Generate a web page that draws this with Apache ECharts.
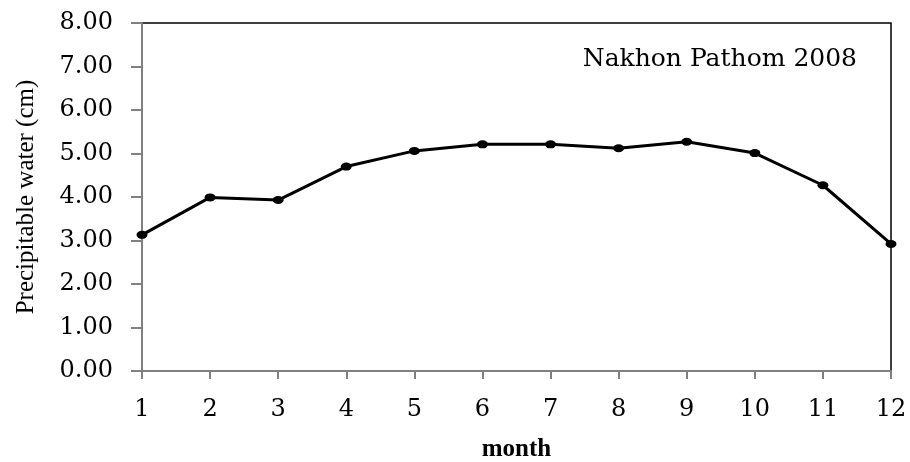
<!DOCTYPE html>
<html>
<head>
<meta charset="utf-8">
<script src="https://cdn.jsdelivr.net/npm/echarts@6/dist/echarts.min.js"></script>
<style>html,body{margin:0;padding:0;background:#fff}#c{width:910px;height:462px}</style>
</head>
<body>
<div id="c"></div>
<script>
const months = ['1','2','3','4','5','6','7','8','9','10','11','12'];
const precipWater = [3.13, 3.99, 3.93, 4.70, 5.06, 5.21, 5.21, 5.12, 5.27, 5.01, 4.27, 2.92];
const yTicks = {min: 0, max: 8, interval: 1};
const titleText = 'Nakhon Pathom 2008';
const xName = 'month';
const yName = 'Precipitable water (cm)';

const tickFont = 'DejaVu Serif';
const nameFont = 'Liberation Serif';
const chart = echarts.init(document.getElementById('c'));
chart.setOption({
  animation: false,
  backgroundColor: '#fff',
  title: {
    text: titleText, right: 48, top: 42,
    textStyle: {fontFamily: tickFont, fontSize: 25, fontWeight: 'normal', color: '#000'}
  },
  grid: {left: 142, right: 19, top: 23, bottom: 91, show: true, borderColor: '#000', borderWidth: 1.5,
    outerBoundsMode: 'none', containLabel: false},
  xAxis: {
    type: 'category', data: months, boundaryGap: false,
    name: xName, nameLocation: 'middle', nameGap: 66,
    nameTextStyle: {fontFamily: nameFont, fontSize: 25, fontWeight: 'bold', color: '#000'},
    axisLine: {lineStyle: {color: '#808080', width: 2}},
    axisTick: {show: true, length: 8, lineStyle: {color: '#808080', width: 2}, alignWithLabel: true},
    axisLabel: {fontFamily: tickFont, fontSize: 24, color: '#000', margin: 27},
    splitLine: {show: false}
  },
  yAxis: {
    type: 'value', min: yTicks.min, max: yTicks.max, interval: yTicks.interval,
    name: yName, nameLocation: 'middle', nameGap: 103, nameRotate: 90,
    nameTextStyle: {fontFamily: nameFont, fontSize: 25, color: '#000'},
    axisLine: {show: true, lineStyle: {color: '#808080', width: 2}},
    axisTick: {show: true, length: 11, lineStyle: {color: '#808080', width: 2}},
    axisLabel: {fontFamily: tickFont, fontSize: 24, color: '#000', margin: 29,
      formatter: v => v.toFixed(2)},
    splitLine: {show: false}
  },
  series: [{
    type: 'line', data: precipWater,
    symbol: 'circle', symbolSize: [11, 8],
    itemStyle: {color: '#000'},
    lineStyle: {color: '#000', width: 3}
  }]
});
</script>
</body>
</html>
